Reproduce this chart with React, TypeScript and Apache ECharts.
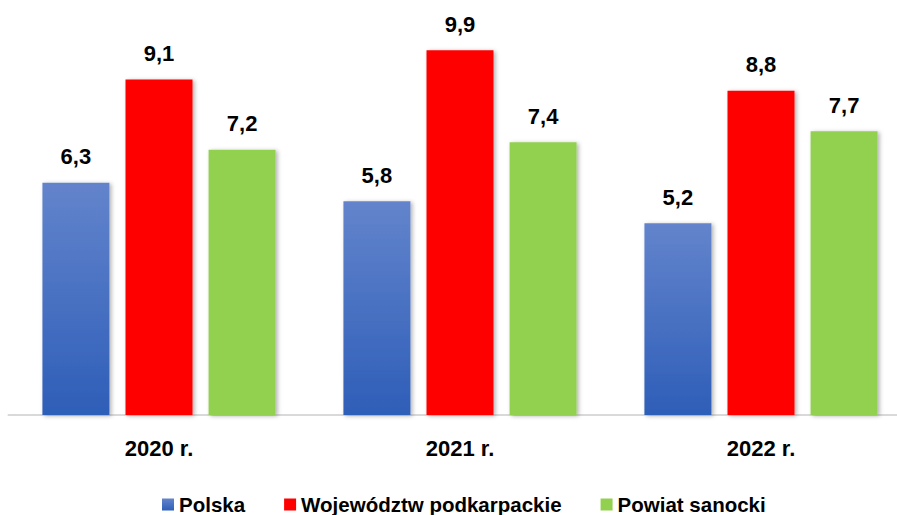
import React, { useEffect, useRef } from "react";
import * as echarts from "echarts";

const categories = ["2020 r.", "2021 r.", "2022 r."];
const seriesNames = ["Polska", "Województw podkarpackie", "Powiat sanocki"];
const polska = [6.3, 5.8, 5.2];
const podkarpackie = [9.1, 9.9, 8.8];
const sanocki = [7.2, 7.4, 7.7];

const FONT = "'Liberation Sans', Arial, sans-serif";

export default function App() {
  const ref = useRef<HTMLDivElement>(null);
  useEffect(() => {
    document.body.style.margin = "0";
    if (!ref.current) return;
    const chart = echarts.init(ref.current, undefined, { renderer: "svg" });
    const label = {
      show: true,
      position: "top",
      distance: 15,
      fontFamily: FONT,
      fontWeight: "bold",
      fontSize: 22,
      color: "#000",
      formatter: (p: any) => String(p.value).replace(".", ","),
    };
    const shadow = {
      shadowBlur: 4,
      shadowColor: "rgba(0,0,0,0.3)",
      shadowOffsetX: 2,
      shadowOffsetY: 1,
    };
    const blue = new echarts.graphic.LinearGradient(0, 0, 0, 1, [
      { offset: 0, color: "#6384cc" },
      { offset: 1, color: "#2e5eb8" },
    ]);
    chart.setOption({
      animation: false,
      backgroundColor: "#fff",
      grid: {
        left: 8.5,
        width: 903,
        top: 9.6,
        bottom: 100,
        containLabel: false,
        outerBoundsMode: "none",
      },
      legend: {
        data: seriesNames,
        top: 489,
        left: 157,
        itemWidth: 12,
        itemHeight: 12,
        itemGap: 39,
        icon: "rect",
        textStyle: { fontFamily: FONT, fontWeight: "bold", fontSize: 20.5, color: "#000" },
      },
      xAxis: {
        type: "category",
        data: categories,
        axisLine: { lineStyle: { color: "#d9d9d9", width: 2 } },
        axisTick: { show: false },
        axisLabel: { fontFamily: FONT, fontWeight: "bold", fontSize: 22, color: "#000", margin: 22 },
      },
      yAxis: { type: "value", min: 0, max: 11, show: false, splitLine: { show: false } },
      series: [
        {
          name: seriesNames[0],
          type: "bar",
          data: polska,
          barWidth: 67,
          barGap: "24%",
          itemStyle: { color: blue, ...shadow },
          label,
        },
        {
          name: seriesNames[1],
          type: "bar",
          data: podkarpackie,
          barWidth: 67,
          barGap: "24%",
          itemStyle: { color: "#ff0000", ...shadow },
          label,
        },
        {
          name: seriesNames[2],
          type: "bar",
          data: sanocki,
          barWidth: 67,
          barGap: "24%",
          itemStyle: { color: "#92d050", ...shadow },
          label,
        },
      ],
    });
    return () => chart.dispose();
  }, []);
  return (
    <div style={{ width: 897, height: 515, overflow: "hidden", position: "relative" }}>
      <div ref={ref} style={{ width: 897, height: 515 }} />
    </div>
  );
}
